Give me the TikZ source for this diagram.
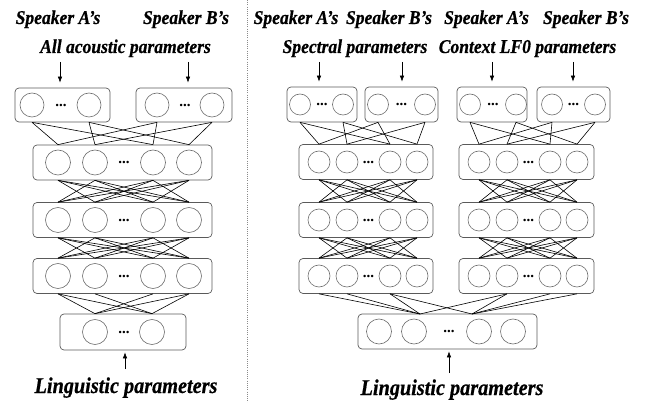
\documentclass[tikz,border=0pt]{standalone}
\usepackage{fontspec}
\setmainfont{Liberation Serif}
\newfontfamily\lblfont[FakeStretch=0.9, FakeBold=0.6]{Liberation Serif}
\usetikzlibrary{arrows.meta}
\definecolor{boxgray}{HTML}{5A5A5A}
\definecolor{circgray}{HTML}{6E6E6E}
\definecolor{sepgray}{HTML}{8A8A8A}
\tikzset{
  layerbox/.style={draw=boxgray, rounded corners=4pt, line width=0.7pt, inner sep=0pt},
  neuron/.style={circle, draw=circgray, line width=0.6pt, minimum size=#1, inner sep=0pt},
  dotsnode/.style={inner sep=0pt, font=\fontsize{15}{15}\selectfont\bfseries},
  conn/.style={draw=black, line width=0.6pt},
  arr/.style={draw=black, line width=0.6pt, -{Latex[length=6pt,width=4.5pt]}},
  toplabel/.style={anchor=base, inner sep=0pt, font=\lblfont\fontsize{19.5}{21}\selectfont\bfseries\itshape},
  botlabel/.style={anchor=base, inner sep=0pt, font=\lblfont\fontsize{22.5}{24}\selectfont\bfseries\itshape},
  seploose/.style={draw=sepgray, line width=0.7pt, dash pattern=on 1pt off 1.2pt}
}
\begin{document}
\begin{tikzpicture}[x=1pt, y=-1pt]
\useasboundingbox (0,0) rectangle (645,403);

% separator
\coordinate (sepTop) at (247,0);
\coordinate (sepBot) at (247,403);
\draw[seploose] (sepTop) -- (sepBot);

% ================= LEFT PANEL =================
\node[toplabel] (lSA) at (58,24) {Speaker A’s};
\node[toplabel] (lSB) at (186,24) {Speaker B’s};
\node[toplabel] (lAll) at (125.5,53) {All acoustic parameters};

% top output boxes
\node[layerbox, minimum width=95pt, minimum height=34pt] (LA) at (62.5,105) {};
\node[neuron=24pt] (LA-1) at (32,105) {};
\node[neuron=24pt] (LA-2) at (89,105) {};
\node[dotsnode] (LAd) at (61,105) {...};
\node[layerbox, minimum width=96pt, minimum height=34pt] (LB) at (184,105) {};
\node[neuron=24pt] (LB-1) at (157,105) {};
\node[neuron=24pt] (LB-2) at (212,105) {};
\node[dotsnode] (LBd) at (185,105) {...};

% arrows into top boxes
\coordinate (aLA) at (60,62);
\coordinate (aLB) at (188,62);
\draw[arr, shorten >=5pt] (aLA) -- (aLA |- LA.north);
\draw[arr, shorten >=5pt] (aLB) -- (aLB |- LB.north);

% hidden layers
\foreach \l/\y in {1/162.5, 2/220, 3/276} {
  \node[layerbox, minimum width=179pt, minimum height=35pt] (Lh\l) at (122.5,\y) {};
  \foreach \i/\x in {1/58, 2/95, 3/153, 4/189}
    \node[neuron=25pt] (Lh\l-\i) at (\x,\y) {};
  \node[dotsnode] (Lh\l d) at (124,\y) {...};
}

% input layer
\node[layerbox, minimum width=126pt, minimum height=36pt] (Lin) at (123,332) {};
\node[neuron=25pt] (Lin-1) at (95,332) {};
\node[neuron=25pt] (Lin-2) at (152,332) {};
\node[dotsnode] (Lind) at (124,332) {...};

\coordinate (aLin) at (125,369);
\draw[arr, shorten >=2pt] (aLin) -- (aLin |- Lin.south);
\node[botlabel] (lLing) at (126,393) {Linguistic parameters};

% connections top -> hidden 1
\foreach \s/\i/\j in {LA/1/1, LA/1/3, LA/2/2, LA/2/4, LB/1/1, LB/1/3, LB/2/2, LB/2/4}
  \draw[conn] (\s-\i |- \s.south) -- (Lh1-\j |- Lh1.north);

% hidden -> hidden
\foreach \l/\m in {1/2, 2/3}
  \foreach \i in {1,...,4}
    \foreach \j in {1,...,4} {
      \ifnum\i=\j\relax\else
        \draw[conn] (Lh\l-\i |- Lh\l.south) -- (Lh\m-\j |- Lh\m.north);
      \fi
    }

% hidden 3 -> input
\foreach \i/\j in {1/1, 1/2, 2/2, 3/1, 4/1, 4/2}
  \draw[conn] (Lh3-\i |- Lh3.south) -- (Lin-\j |- Lin.north);

% ================= RIGHT PANEL =================
\node[toplabel] (rSA1) at (296,24) {Speaker A’s};
\node[toplabel] (rSB1) at (389,24) {Speaker B’s};
\node[toplabel] (rSA2) at (486.5,24) {Speaker A’s};
\node[toplabel] (rSB2) at (586,24) {Speaker B’s};
\node[toplabel] (rSpec) at (355,53) {Spectral parameters};
\node[toplabel] (rLF0) at (527.5,53) {Context LF0 parameters};

% top output boxes
\foreach \n/\cx/\w/\xa/\xb/\xd in {R1/322/70/300/343/322, R2/401.5/73/378/425/401.5, R3/492/70/470/516/493, R4/573.5/73/552/595/573.5} {
  \node[layerbox, minimum width=\w pt, minimum height=35pt] (\n) at (\cx,104.5) {};
  \node[neuron=21pt] (\n-1) at (\xa,104.5) {};
  \node[neuron=21pt] (\n-2) at (\xb,104.5) {};
  \node[dotsnode] (\n d) at (\xd,104.5) {...};
}

\coordinate (aR1) at (319,62);
\coordinate (aR2) at (402,62);
\coordinate (aR3) at (492,62);
\coordinate (aR4) at (573,62);
\foreach \n in {1,2,3,4}
  \draw[arr, shorten >=5pt] (aR\n) -- (aR\n |- R\n.north);

% hidden columns
\foreach \l/\y in {1/162, 2/220, 3/276} {
  \node[layerbox, minimum width=134pt, minimum height=35pt] (RL\l) at (366,\y) {};
  \foreach \i/\x in {1/319, 2/347, 3/390, 4/417}
    \node[neuron=22pt] (RL\l-\i) at (\x,\y) {};
  \node[dotsnode] (RL\l d) at (368.5,\y) {...};
  \node[layerbox, minimum width=135pt, minimum height=35pt] (RR\l) at (526.5,\y) {};
  \foreach \i/\x in {1/479, 2/507, 3/550, 4/577}
    \node[neuron=22pt] (RR\l-\i) at (\x,\y) {};
  \node[dotsnode] (RR\l d) at (528.5,\y) {...};
}

% input layer
\node[layerbox, minimum width=179pt, minimum height=35pt] (Rin) at (447.5,331.5) {};
\foreach \i/\x in {1/379, 2/414, 3/479, 4/513}
  \node[neuron=25pt] (Rin-\i) at (\x,331.5) {};
\node[dotsnode] (Rind) at (449,331.5) {...};
\coordinate (ia) at (420,314);
\coordinate (ib) at (472,314);

\coordinate (aRin) at (449,373);
\draw[arr, shorten >=2pt] (aRin) -- (aRin |- Rin.south);
\node[botlabel] (rLing) at (452,395) {Linguistic parameters};

% top -> hidden 1
\foreach \s/\i/\j in {R1/1/1, R1/1/3, R1/2/2, R1/2/4, R2/1/1, R2/1/3, R2/2/2, R2/2/4}
  \draw[conn] (\s-\i |- \s.south) -- (RL1-\j |- RL1.north);
\foreach \s/\i/\j in {R3/1/1, R3/1/3, R3/2/2, R3/2/4, R4/1/1, R4/1/3, R4/2/2, R4/2/4}
  \draw[conn] (\s-\i |- \s.south) -- (RR1-\j |- RR1.north);

% hidden -> hidden
\foreach \c in {RL, RR}
  \foreach \l/\m in {1/2, 2/3}
    \foreach \i in {1,...,4}
      \foreach \j in {1,...,4} {
        \ifnum\i=\j\relax\else
          \draw[conn] (\c\l-\i |- \c\l.south) -- (\c\m-\j |- \c\m.north);
        \fi
      }

% hidden 3 -> input
\foreach \i in {1,2,3}
  \draw[conn] (RL3-\i |- RL3.south) -- (ia);
\draw[conn] (RL3-3 |- RL3.south) -- (ib);
\draw[conn] (RR3-2 |- RR3.south) -- (ia);
\foreach \i in {2,3,4}
  \draw[conn] (RR3-\i |- RR3.south) -- (ib);

\end{tikzpicture}
\end{document}
